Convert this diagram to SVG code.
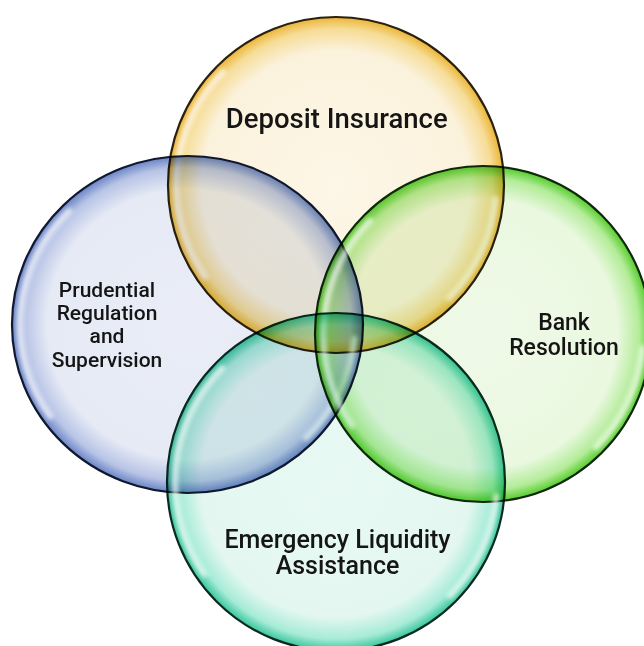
<svg xmlns="http://www.w3.org/2000/svg" width="644" height="646" viewBox="0 0 644 646">
<defs>
<style>
.c{mix-blend-mode:multiply;stroke-width:2.2}
.hl{fill:none;stroke:#fff;stroke-width:6;stroke-linecap:round;opacity:0.7;filter:url(#blur)}
.t{font-family:Roboto,"Liberation Sans",sans-serif;font-weight:500;fill:#151515;text-anchor:middle}
</style>
<filter id="blur" x="-20%" y="-20%" width="140%" height="140%"><feGaussianBlur stdDeviation="2.3"/></filter>
<radialGradient id="gT"><stop offset="0" stop-color="#FDF7E8"/><stop offset="0.8" stop-color="#FBF2DC"/><stop offset="0.93" stop-color="#F6DC96"/><stop offset="1" stop-color="#EBB535"/></radialGradient>
<radialGradient id="gL"><stop offset="0" stop-color="#EAEDF7"/><stop offset="0.8" stop-color="#E6EAF5"/><stop offset="0.93" stop-color="#B8C4E6"/><stop offset="1" stop-color="#6A84C5"/></radialGradient>
<radialGradient id="gR"><stop offset="0" stop-color="#EFF9E8"/><stop offset="0.8" stop-color="#EAF8E0"/><stop offset="0.93" stop-color="#B3EC98"/><stop offset="1" stop-color="#55CC2C"/></radialGradient>
<radialGradient id="gB"><stop offset="0" stop-color="#E8F9F3"/><stop offset="0.8" stop-color="#E3F7F0"/><stop offset="0.93" stop-color="#A6EBD6"/><stop offset="1" stop-color="#36C59C"/></radialGradient>
</defs>
<rect width="644" height="646" fill="#fff"/>
<g id="deposit-insurance">
<circle class="c" cx="336" cy="185" r="168" fill="url(#gT)" stroke="#2a2010"/>
<path class="hl" d="M205,276.8 A160,160 0 0 1 222.9,71.9"/>
<path class="hl" d="M495.4,198.9 A160,160 0 0 1 449.1,298.1"/>
</g>
<g id="prudential-regulation">
<ellipse class="c" cx="187.5" cy="324.5" rx="175.5" ry="168.5" fill="url(#gL)" stroke="#101830"/>
<path class="hl" d="M50.3,416.6 A167.5,160.5 0 0 1 69.1,211"/>
<path class="hl" d="M354.4,338.5 A167.5,160.5 0 0 1 305.9,438"/>
</g>
<g id="bank-resolution">
<circle class="c" cx="483" cy="334" r="168" fill="url(#gR)" stroke="#10280a"/>
<path class="hl" d="M352,425.8 A160,160 0 0 1 369.9,220.9"/>
<path class="hl" d="M642.4,347.9 A160,160 0 0 1 596.1,447.1"/>
</g>
<g id="emergency-liquidity">
<circle class="c" cx="336" cy="482" r="169" fill="url(#gB)" stroke="#0a2a20"/>
<path class="hl" d="M204.1,574.4 A161,161 0 0 1 222.2,368.2"/>
<path class="hl" d="M496.4,496 A161,161 0 0 1 449.8,595.8"/>
</g>
<g id="labels">
<text class="t" x="336.7" y="128" font-size="27.5">Deposit Insurance</text>
<text class="t" font-size="21"><tspan x="107" y="296.7">Prudential</tspan><tspan x="107" y="320">Regulation</tspan><tspan x="107" y="343.3">and</tspan><tspan x="107" y="366.7">Supervision</tspan></text>
<text class="t" font-size="23"><tspan x="564" y="330">Bank</tspan><tspan x="564" y="355">Resolution</tspan></text>
<text class="t" font-size="25"><tspan x="337.5" y="547.5">Emergency Liquidity</tspan><tspan x="337.5" y="574">Assistance</tspan></text>
</g>
</svg>
